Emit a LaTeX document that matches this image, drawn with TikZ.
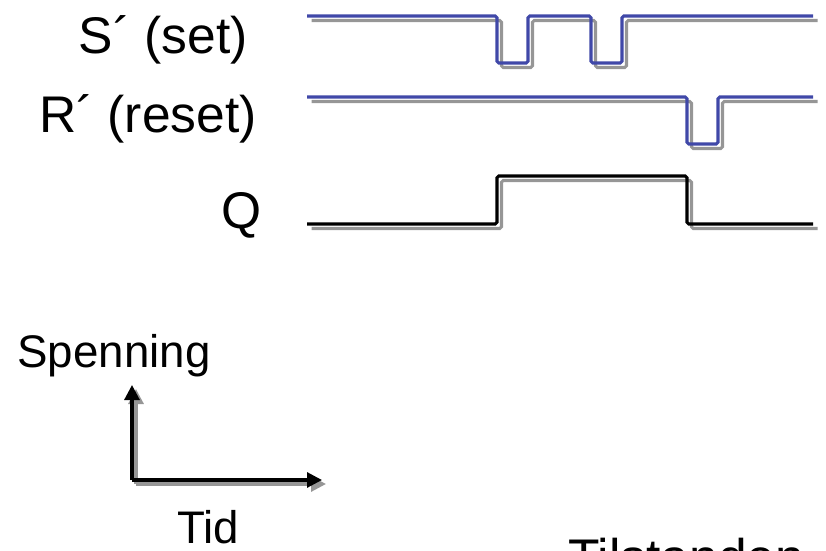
\documentclass[tikz,border=0pt]{standalone}
\usepackage{fontspec}
\setmainfont{Liberation Sans}
\usepackage{tikz}
\usetikzlibrary{arrows.meta, positioning}
\definecolor{sigblue}{RGB}{64,72,168}
\definecolor{shadowgray}{RGB}{150,150,150}

\begin{document}
\begin{tikzpicture}[
    x=0.03cm, y=-0.03cm,
    label/.style={inner sep=0pt, font=\fontsize{44}{53}\selectfont},
    axislabel/.style={inner sep=0pt, font=\fontsize{39}{46}\selectfont},
    signal/.style={line width=2.6pt, rounded corners=1.5pt, draw=#1,
        preaction={draw=shadowgray, line width=2.6pt, transform canvas={shift={(4.5,4.5)}}}},
    axis/.style={line width=2.6pt, -{Triangle[length=0.45cm, width=0.45cm]},
        preaction={draw=shadowgray, line width=2.6pt, transform canvas={shift={(4,4)}}}}
]
\useasboundingbox (0,0) rectangle (826,551);

% Signal names
\node[label, anchor=base east] (set) at (248,53) {S´ (set)};
\node[label, anchor=base east] (reset) at (257,132) {R´ (reset)};
\node[label, anchor=base east] (q) at (262,228) {Q};

% Signals
\draw[signal=sigblue] (307,16) -| (497,63) -| (528,16) -| (591,63) -| (622,16) -- (813,16);
\draw[signal=sigblue] (307,97) -| (687,144) -| (718,97) -- (813,97);
\draw[signal=black] (307,224) -| (497,176) -| (687,224) -- (813,224);

% Axes
\coordinate (origin) at (132,480);
\coordinate (vtop) at (132,385);
\coordinate (hend) at (322,480);
\node[axislabel, anchor=base] (volt) at (114,367) {Spenning};
\node[axislabel, anchor=base] (time) at (208,543) {Tid};
\draw[axis] (origin) -- (vtop);
\draw[axis] (origin) -- (hend);

% State
\node[label, anchor=base west] (state) at (568,575) {Tilstanden};

\end{tikzpicture}
\end{document}
